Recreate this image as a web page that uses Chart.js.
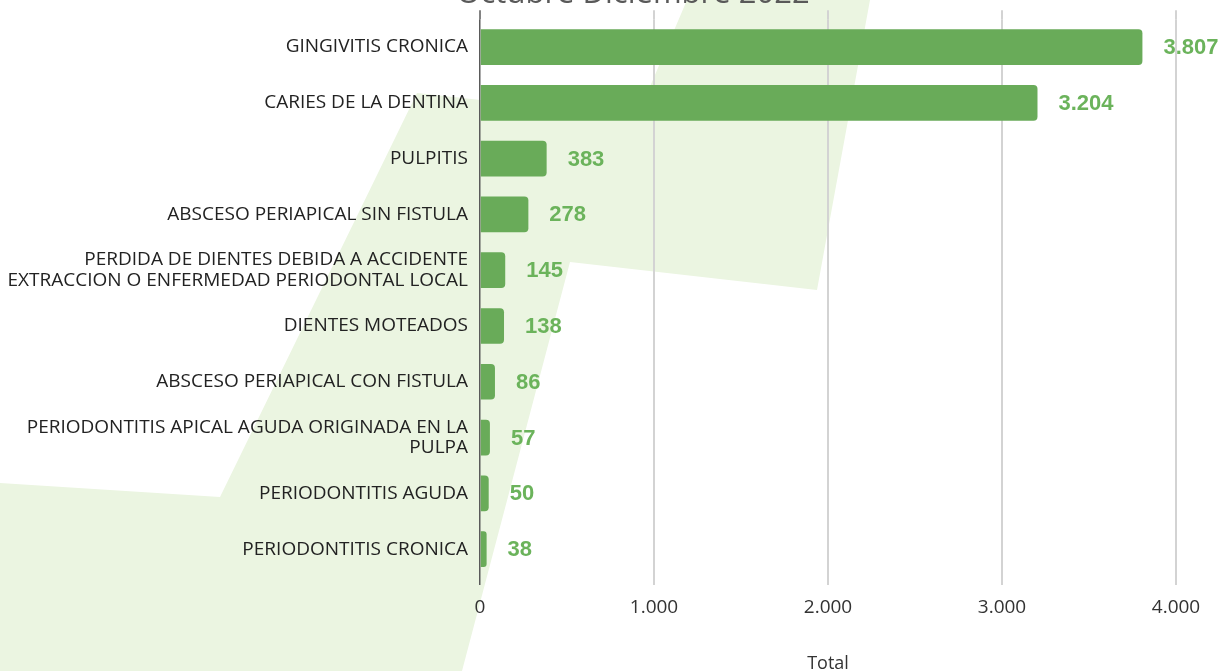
<!DOCTYPE html>
<html>
<head>
<meta charset="utf-8">
<script src="https://cdn.jsdelivr.net/npm/chart.js@4.4.0/dist/chart.umd.min.js"></script>
<style>
  html, body { margin: 0; padding: 0; background: #fff; overflow: hidden; }
  #wrap { position: relative; width: 1221px; height: 671px; overflow: hidden; }
  /* decorative light green shape behind the chart */
  #bg {
    position: absolute; left: 0; top: 0; width: 1221px; height: 671px;
    background: #ebf5e1;
    clip-path: polygon(687px 0, 870px 0, 817px 290px, 570px 262px, 462px 671px, 0 671px, 0 483px, 220px 497px, 417px 93px, 637px 117px);
  }
  #box { position: absolute; left: 0; top: -24px; width: 1221px; height: 695px; }
</style>
</head>
<body>
<div id="wrap">
  <div id="bg"></div>
  <div id="box"><canvas id="chart"></canvas></div>
</div>
<script>
const categories = [
  'GINGIVITIS CRONICA',
  'CARIES DE LA DENTINA',
  'PULPITIS',
  'ABSCESO PERIAPICAL SIN FISTULA',
  ['PERDIDA DE DIENTES DEBIDA A ACCIDENTE', 'EXTRACCION O ENFERMEDAD PERIODONTAL LOCAL'],
  'DIENTES MOTEADOS',
  'ABSCESO PERIAPICAL CON FISTULA',
  ['PERIODONTITIS APICAL AGUDA ORIGINADA EN LA', 'PULPA'],
  'PERIODONTITIS AGUDA',
  'PERIODONTITIS CRONICA'
];
const totals = [3807, 3204, 383, 278, 145, 138, 86, 57, 50, 38];
const xTicks = [0, 1000, 2000, 3000, 4000];
const chartTitle = 'Octubre Diciembre 2022';
const axisTitle = 'Total';

const barColor = '#69ab59';
const labelColor = '#6bb35b';

// 3807 -> "3.807"
const fmt = v => String(v).replace(/\B(?=(\d{3})+(?!\d))/g, '.');

// value labels to the right of each bar
const valueLabels = {
  id: 'valueLabels',
  afterDatasetsDraw(chart) {
    const ctx = chart.ctx;
    const meta = chart.getDatasetMeta(0);
    ctx.save();
    ctx.font = 'bold 22px "Liberation Sans", Arial, sans-serif';
    ctx.fillStyle = labelColor;
    ctx.textAlign = 'left';
    ctx.textBaseline = 'middle';
    meta.data.forEach((bar, i) => {
      ctx.fillText(fmt(totals[i]), bar.x + 21, bar.y + 1);
    });
    ctx.restore();
  }
};

// the vertical grid lines poke a little above the plot area
const gridTop = {
  id: 'gridTop',
  beforeDatasetsDraw(chart) {
    const { ctx, chartArea, scales } = chart;
    const x = scales.x;
    ctx.save();
    x.ticks.forEach(t => {
      const px = Math.round(x.getPixelForValue(t.value));
      ctx.beginPath();
      ctx.strokeStyle = t.value === 0 ? '#5a5a5a' : '#d3d3d3';
      ctx.lineWidth = t.value === 0 ? 1.5 : 2;
      ctx.moveTo(px, chartArea.top - 9);
      ctx.lineTo(px, chartArea.top);
      ctx.stroke();
    });
    ctx.restore();
  }
};

// long category labels run into the left padding; don't clip them there
const unclipY = {
  id: 'unclipY',
  afterLayout(chart) { chart.scales.y.left = 0; }
};

new Chart(document.getElementById('chart'), {
  type: 'bar',
  data: {
    labels: categories,
    datasets: [{
      label: axisTitle,
      data: totals,
      backgroundColor: barColor,
      borderRadius: 4,
      borderSkipped: 'start',
      categoryPercentage: 0.8,
      barPercentage: 0.8
    }]
  },
  options: {
    indexAxis: 'y',
    responsive: true,
    maintainAspectRatio: false,
    animation: false,
    layout: { padding: { left: 90, right: 45, top: 0, bottom: 0 } },
    plugins: {
      legend: { display: false },
      tooltip: { enabled: false },
      title: {
        display: true,
        text: chartTitle,
        color: '#595959',
        font: { family: '"Open Sans", sans-serif', size: 31, weight: 'normal', lineHeight: 1.2 },
        padding: { top: 0, bottom: 6 }
      }
    },
    scales: {
      x: {
        min: 0,
        max: 4000,
        afterBuildTicks: s => { s.ticks = xTicks.map(v => ({ value: v })); },
        afterFit: s => { s.height = 94; },
        ticks: {
          callback: v => fmt(v),
          color: '#333',
          padding: 12,
          font: { family: '"Open Sans", sans-serif', size: 19, lineHeight: 1.15 }
        },
        grid: {
          color: c => (c.tick && c.tick.value === 0) ? '#5a5a5a' : '#d3d3d3',
          lineWidth: c => (c.tick && c.tick.value === 0) ? 1.5 : 2,
          drawTicks: true,
          tickLength: 8
        },
        border: { display: false },
        title: {
          display: true,
          text: axisTitle,
          color: '#333',
          padding: 0,
          font: { family: '"Open Sans", sans-serif', size: 18, lineHeight: 0.8 }
        }
      },
      y: {
        afterFit: s => { s.width = 390; },
        ticks: {
          color: '#222',
          padding: 12,
          font: { family: '"Open Sans", sans-serif', size: 19, lineHeight: 1.1 }
        },
        grid: { display: false, drawTicks: false },
        border: { display: false }
      }
    }
  },
  plugins: [gridTop, valueLabels, unclipY]
});
</script>
</body>
</html>
